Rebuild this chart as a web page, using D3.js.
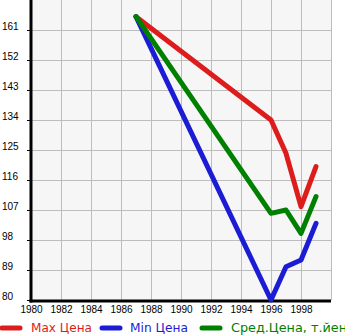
<!DOCTYPE html>
<html><head><meta charset="utf-8">
<script src="https://cdn.jsdelivr.net/npm/d3@7"></script>
<style>body{margin:0;background:#fff;}svg{display:block;font-family:"DejaVu Sans",sans-serif;}</style>
</head><body><svg id="c" width="345" height="335"></svg>
<script>
const years = [1987, 1996, 1997, 1998, 1999];
const maxPrice = [165, 134, 124, 108, 120];
const minPrice = [165, 80, 90, 92, 103];
const avgPrice = [165, 106, 107, 100, 111];
const yTicks = [80, 89, 98, 107, 116, 125, 134, 143, 152, 161];
const xTicks = [1980, 1982, 1984, 1986, 1988, 1990, 1992, 1994, 1996, 1998];
const seriesNames = ["Max Цена", "Min Цена", "Сред.Цена, т.йен"];
const colors = ["#dd1c1c", "#1c1cd4", "#008000"];

const svg = d3.select("#c");
const x = d3.scaleLinear().domain([1980, 2000]).range([31, 331]);
const y = d3.scaleLinear().domain([80, 170]).range([300, 0]);

svg.append("rect").attr("x", 31).attr("y", 0).attr("width", 300).attr("height", 300).attr("fill", "#f6f6f6");
const grid = svg.append("g").attr("stroke", "#bdbdbd").attr("stroke-width", 1);
xTicks.concat([2000]).forEach(t => grid.append("line").attr("x1", Math.round(x(t)) + 0.5).attr("x2", Math.round(x(t)) + 0.5).attr("y1", 0).attr("y2", 300));
yTicks.forEach(t => grid.append("line").attr("x1", 31).attr("x2", 331).attr("y1", Math.round(y(t)) + 0.5).attr("y2", Math.round(y(t)) + 0.5));

// y axis
const ya = svg.append("g").attr("transform", "translate(31,0)")
  .call(d3.axisLeft(y).tickValues(yTicks).tickSize(4).tickFormat(d3.format("d")));
ya.select(".domain").remove();
ya.selectAll("line").attr("stroke", "#000");
ya.selectAll("text").attr("x", -29).attr("text-anchor", "start").attr("dy", "-0.1em")
  .attr("font-size", 10).attr("fill", "#000");

// x axis
const xa = svg.append("g").attr("transform", "translate(0,301)")
  .call(d3.axisBottom(x).tickValues(xTicks).tickSize(0).tickFormat(d3.format("d")));
xa.select(".domain").remove();
xa.selectAll("text").attr("dy", "0.9em").attr("y", 3).attr("font-size", 10).attr("fill", "#000");

svg.append("line").attr("x1", 31).attr("x2", 31).attr("y1", 0).attr("y2", 302.5).attr("stroke", "#000").attr("stroke-width", 3);
svg.append("line").attr("x1", 29.5).attr("x2", 331).attr("y1", 301).attr("y2", 301).attr("stroke", "#000").attr("stroke-width", 3);

const line = d3.line().x((d, i) => x(years[i])).y(d => y(d));
[maxPrice, minPrice, avgPrice].forEach((s, k) => {
  svg.append("path").attr("d", line(s)).attr("fill", "none").attr("stroke", colors[k])
    .attr("stroke-width", 5).attr("stroke-linejoin", "round").attr("stroke-linecap", "round");
});

// legend
const lg = [[0, 31, 61], [100, 130, 58], [200, 231, 116]];
seriesNames.forEach((n, k) => {
  svg.append("line").attr("x1", lg[k][0] + 2).attr("x2", lg[k][0] + 20).attr("y1", 328).attr("y2", 328)
    .attr("stroke", colors[k]).attr("stroke-width", 5).attr("stroke-linecap", "round");
  svg.append("text").attr("x", lg[k][1]).attr("y", 332).attr("font-size", 12).attr("fill", colors[k])
    .attr("textLength", lg[k][2]).attr("lengthAdjust", "spacingAndGlyphs").text(n);
});
</script></body></html>
